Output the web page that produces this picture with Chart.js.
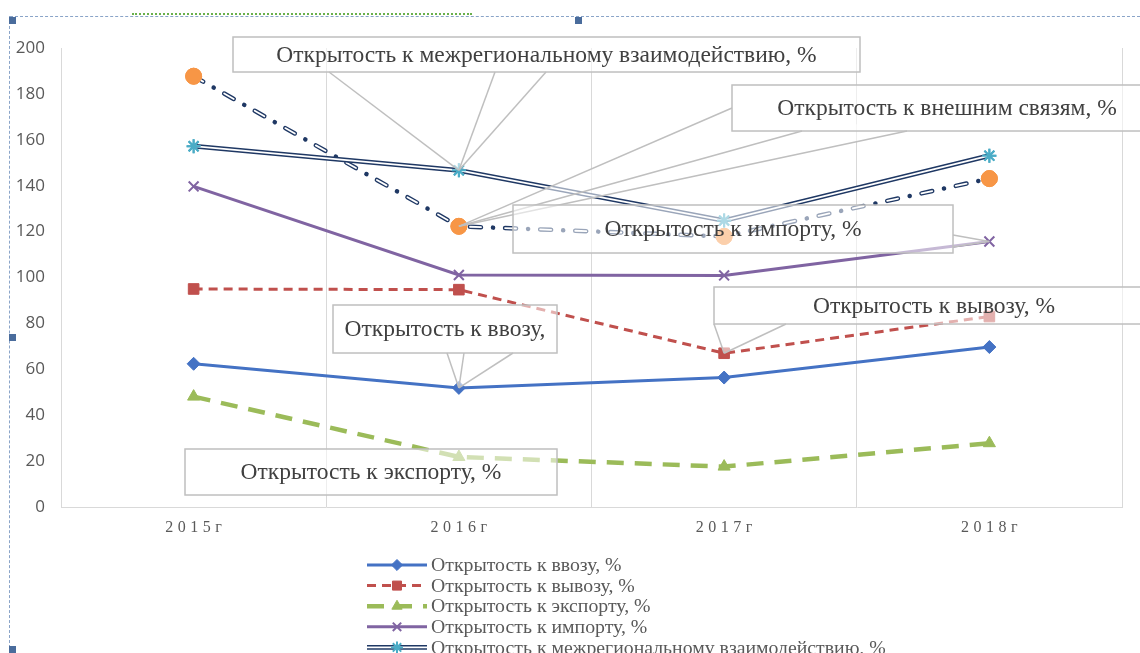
<!DOCTYPE html>
<html lang="ru">
<head>
<meta charset="utf-8">
<title>Открытость региона</title>
<script src="https://cdn.jsdelivr.net/npm/chart.js@4.4.1/dist/chart.umd.min.js"></script>
<style>
  html, body { margin: 0; padding: 0; background: #fff; overflow: hidden; }
  #wrap { position: relative; width: 1140px; height: 653px; }
  #chart { position: absolute; left: 0; top: 0; }
  .frame-top { position: absolute; left: 10px; top: 16px; right: 0; border-top: 1px dashed #8aa4c8; }
  .frame-left { position: absolute; left: 9px; top: 16px; bottom: 0; border-left: 1px dashed #8aa4c8; }
  .handle { position: absolute; width: 7px; height: 7px; background: #4a6c9c; }
  .squiggle { position: absolute; left: 132px; top: 11px; width: 340px; height: 2px; border-bottom: 2px dotted #6ab04c; }
</style>
</head>
<body>
<div id="wrap">
  <canvas id="chart" width="1140" height="653"></canvas>
  <div class="squiggle"></div>
  <div class="frame-top"></div>
  <div class="frame-left"></div>
  <div class="handle" style="left:9px;top:17px"></div>
  <div class="handle" style="left:575px;top:17px"></div>
  <div class="handle" style="left:9px;top:334px"></div>
  <div class="handle" style="left:9px;top:646px"></div>
</div>
<script>
// ===== DATA =====
const years = ['2015г', '2016г', '2017г', '2018г'];

const importInflow = [62.4, 51.9, 56.4, 69.7];      // ввоз
const exportOutflow = [95.0, 94.7, 67.0, 83.0];     // вывоз
const exportShare = [48.1, 21.8, 17.6, 27.8];       // экспорт
const importShare = [139.7, 101.1, 100.9, 115.7];   // импорт
const interregional = [157.2, 146.7, 124.8, 153.1]; // межрегиональное взаимодействие
const externalLinks = [187.7, 122.3, 117.9, 143.1]; // внешние связи

const seriesNames = [
  'Открытость к ввозу, %',
  'Открытость к вывозу, %',
  'Открытость к экспорту, %',
  'Открытость к импорту, %',
  'Открытость к межрегиональному взаимодействию, %',
  'Открытость к внешним связям, %'
];

const yMin = 0;
const yMax = 200;
const yStep = 20;

// ===== CALLOUTS (data labels placed by hand in the original) =====
// box in canvas px, pointer lines go from "from" points to the data point
const callouts = [
  { series: 4, index: 1, text: 'Открытость к межрегиональному взаимодействию, %',
    box: [233, 37, 627, 35], from: [[329, 72], [495, 72], [546, 72]] },
  { series: 5, index: 1, text: 'Открытость к внешним связям, %',
    box: [732, 85, 430, 46], from: [[732, 108], [802, 131], [907, 131]] },
  { series: 3, index: 3, text: 'Открытость к импорту, %',
    box: [513, 205, 440, 48], from: [[953, 235], [953, 247]] },
  { series: 1, index: 2, text: 'Открытость к вывозу, %',
    box: [714, 287, 440, 37], from: [[714, 324], [786, 324]] },
  { series: 0, index: 1, text: 'Открытость к ввозу,',
    box: [333, 305, 224, 48], from: [[447, 353], [464, 353], [513, 353]] },
  { series: 2, index: 1, text: 'Открытость к экспорту, %',
    box: [185, 449, 372, 46], from: [] }
];

const SERIF = '"Liberation Serif", "DejaVu Serif", serif';
const SANS = '"Open Sans", "Liberation Sans", sans-serif';

Chart.defaults.font.family = SANS;

/**
 * Stroke a polyline through the points of a line element with a given style.
 */
function strokePath(ctx, pts, color, width, dash, cap) {
  ctx.save();
  ctx.strokeStyle = color;
  ctx.lineWidth = width;
  ctx.setLineDash(dash || []);
  ctx.lineCap = cap || 'butt';
  ctx.lineJoin = 'round';
  ctx.beginPath();
  pts.forEach((p, i) => (i === 0 ? ctx.moveTo(p.x, p.y) : ctx.lineTo(p.x, p.y)));
  ctx.stroke();
  ctx.restore();
}

function drawMarker(ctx, ds, x, y, scale) {
  ctx.save();
  ctx.setLineDash([]);
  ctx.fillStyle = ds.pointBackgroundColor;
  ctx.strokeStyle = ds.pointBorderColor;
  ctx.lineWidth = ds.pointBorderWidth;
  Chart.helpers.drawPoint(ctx, {
    pointStyle: ds.pointStyle,
    radius: ds.pointRadius * scale,
    borderWidth: ds.pointBorderWidth,
    rotation: 0
  }, x, y);
  ctx.restore();
}

// white core for the "double" lines, then markers again on top
const doubleLinePlugin = {
  id: 'doubleLine',
  afterDatasetDraw(chart, args) {
    const ds = chart.data.datasets[args.index];
    if (!ds.innerLine) return;
    const meta = chart.getDatasetMeta(args.index);
    const pts = meta.data.map(p => ({ x: p.x, y: p.y }));
    strokePath(chart.ctx, pts, '#fff', ds.innerLine.width, ds.innerLine.dash, ds.borderCapStyle);
    meta.data.forEach(p => p.draw(chart.ctx, chart.chartArea));
  }
};

const calloutPlugin = {
  id: 'callouts',
  afterDatasetsDraw(chart) {
    const ctx = chart.ctx;
    callouts.forEach(c => {
      const pt = chart.getDatasetMeta(c.series).data[c.index];
      const [bx, by, bw, bh] = c.box;
      ctx.save();
      ctx.fillStyle = 'rgba(255,255,255,0.55)';
      ctx.fillRect(bx, by, bw, bh);
      if (c.from.length > 1) {
        const a = c.from[0], b = c.from[c.from.length - 1];
        ctx.beginPath();
        ctx.moveTo(a[0], a[1]);
        ctx.lineTo(pt.x, pt.y);
        ctx.lineTo(b[0], b[1]);
        ctx.closePath();
        ctx.fill();
      }
      ctx.strokeStyle = '#bfbfbf';
      ctx.lineWidth = 1.5;
      ctx.strokeRect(bx, by, bw, bh);
      c.from.forEach(f => {
        ctx.beginPath();
        ctx.moveTo(f[0], f[1]);
        ctx.lineTo(pt.x, pt.y);
        ctx.stroke();
      });
      ctx.fillStyle = '#404040';
      ctx.font = '23.5px ' + SERIF;
      ctx.textAlign = 'center';
      ctx.textBaseline = 'middle';
      ctx.fillText(c.text, bx + bw / 2, by + bh / 2 + 1);
      ctx.restore();
    });
  }
};

// spaced-out category labels and the stacked legend under the plot
const labelsAndLegendPlugin = {
  id: 'labelsAndLegend',
  afterDraw(chart) {
    const ctx = chart.ctx;
    const xScale = chart.scales.x;

    ctx.save();
    ctx.fillStyle = '#595959';
    ctx.font = '16px ' + SERIF;
    ctx.textAlign = 'center';
    ctx.textBaseline = 'middle';
    if ('letterSpacing' in ctx) ctx.letterSpacing = '4.5px';
    chart.data.labels.forEach((lab, i) => {
      ctx.fillText(lab, xScale.getPixelForTick(i) + 2.2, chart.chartArea.bottom + 21);
    });
    ctx.restore();

    const x0 = 367, x1 = 427, rowTop = 565, rowH = 20.6;
    chart.data.datasets.forEach((ds, i) => {
      const y = rowTop + i * rowH;
      const pts = [{ x: x0, y }, { x: x1, y }];
      strokePath(ctx, pts, ds.borderColor, ds.borderWidth, ds.borderDash, ds.borderCapStyle);
      if (ds.innerLine) strokePath(ctx, pts, '#fff', ds.innerLine.width, ds.innerLine.dash, ds.borderCapStyle);
      drawMarker(ctx, ds, (x0 + x1) / 2, y, 0.85);
      ctx.save();
      ctx.fillStyle = '#595959';
      ctx.font = '19.8px ' + SERIF;
      ctx.textAlign = 'left';
      ctx.textBaseline = 'middle';
      ctx.fillText(ds.label, x1 + 4, y + 1);
      ctx.restore();
    });
  }
};

const datasets = [
  {
    label: seriesNames[0], data: importInflow,
    borderColor: '#4472C4', borderWidth: 3,
    pointStyle: 'rectRot', pointRadius: 6.5, pointBorderWidth: 1,
    pointBackgroundColor: '#4472C4', pointBorderColor: '#4472C4'
  },
  {
    label: seriesNames[1], data: exportOutflow,
    borderColor: '#C0504D', borderWidth: 3, borderDash: [9, 6],
    pointStyle: 'rect', pointRadius: 7.5, pointBorderWidth: 1,
    pointBackgroundColor: '#C0504D', pointBorderColor: '#C0504D'
  },
  {
    label: seriesNames[2], data: exportShare,
    borderColor: '#9BBB59', borderWidth: 4.5, borderDash: [17, 11],
    pointStyle: 'triangle', pointRadius: 7, pointBorderWidth: 1,
    pointBackgroundColor: '#9BBB59', pointBorderColor: '#9BBB59'
  },
  {
    label: seriesNames[3], data: importShare,
    borderColor: '#8064A2', borderWidth: 3,
    pointStyle: 'crossRot', pointRadius: 7, pointBorderWidth: 2,
    pointBackgroundColor: '#8064A2', pointBorderColor: '#8064A2'
  },
  {
    label: seriesNames[4], data: interregional,
    borderColor: '#1F3864', borderWidth: 4.8,
    innerLine: { width: 1.8, dash: [] },
    pointStyle: 'star', pointRadius: 7, pointBorderWidth: 2,
    pointBackgroundColor: '#4BACC6', pointBorderColor: '#4BACC6'
  },
  {
    label: seriesNames[5], data: externalLinks,
    borderColor: '#1F3864', borderWidth: 4.5, borderDash: [11, 12, 0.1, 12], borderCapStyle: 'round',
    innerLine: { width: 1.8, dash: [11, 24.1] },
    pointStyle: 'circle', pointRadius: 8, pointBorderWidth: 1,
    pointBackgroundColor: '#F79646', pointBorderColor: '#F79646'
  }
];

new Chart(document.getElementById('chart'), {
  type: 'line',
  data: { labels: years, datasets },
  plugins: [doubleLinePlugin, calloutPlugin, labelsAndLegendPlugin],
  options: {
    responsive: false,
    animation: false,
    devicePixelRatio: 1,
    layout: { padding: { top: 48, left: 0, right: 18, bottom: 146 } },
    plugins: {
      legend: { display: false },
      tooltip: { enabled: false }
    },
    elements: { line: { tension: 0, fill: false } },
    scales: {
      x: {
        type: 'category',
        offset: true,
        grid: { offset: true, color: '#d9d9d9', lineWidth: 1, drawTicks: false },
        border: { display: true, color: '#d9d9d9', width: 1 },
        ticks: { display: false },
        afterFit: s => { s.height = 0; s.paddingLeft = 0; s.paddingRight = 0; }
      },
      y: {
        min: yMin, max: yMax,
        grid: { color: 'rgba(0,0,0,0)', drawTicks: false },
        border: { display: false },
        ticks: {
          stepSize: yStep, padding: 16, color: '#595959',
          font: { size: 17, family: SANS }
        },
        afterFit: s => { s.width = 61; s.paddingTop = 0; s.paddingBottom = 0; }
      }
    }
  }
});
</script>
</body>
</html>
